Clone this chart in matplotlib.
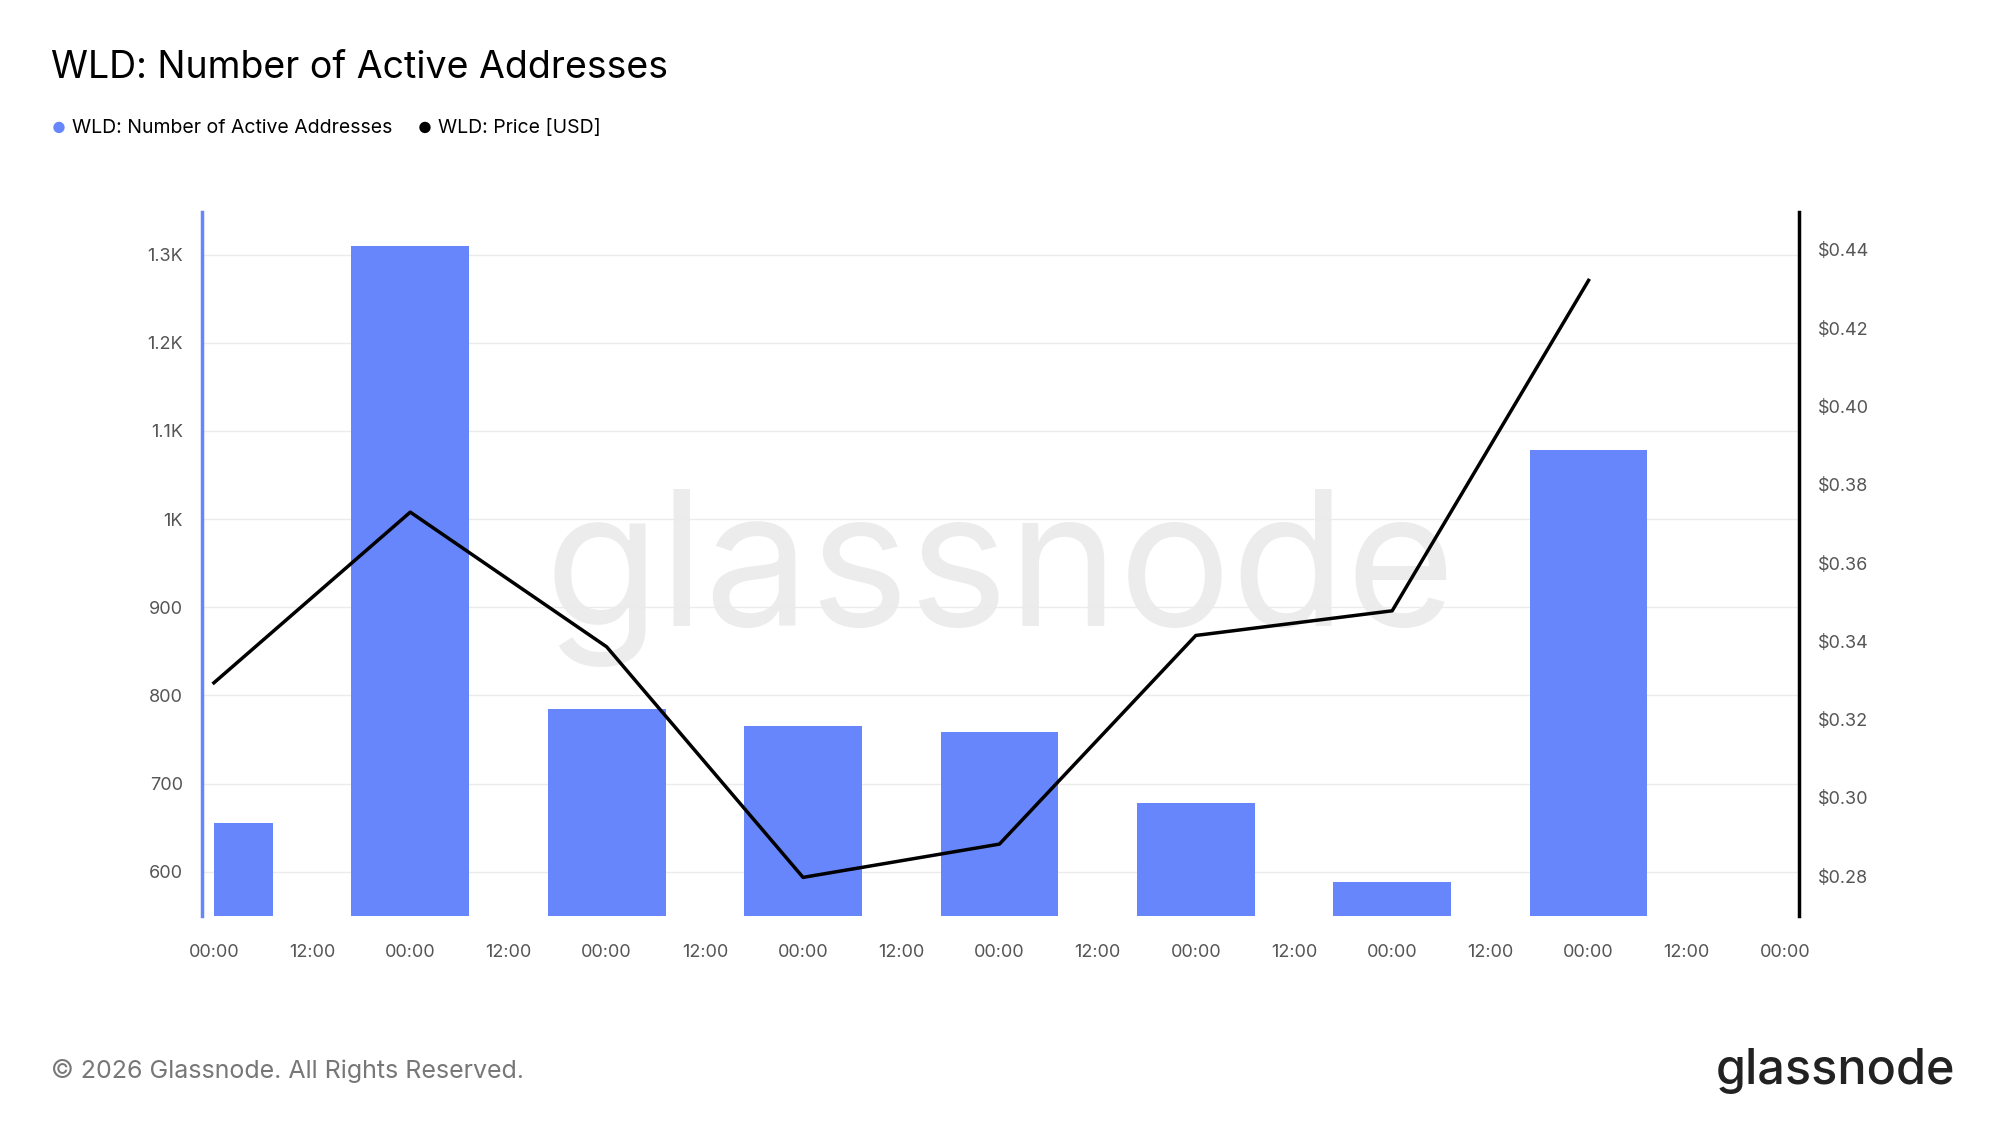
import matplotlib
matplotlib.use('Agg')
import matplotlib.pyplot as plt

days = [0, 1, 2, 3, 4, 5, 6, 7]
active = [655, 1310, 785, 765, 758, 678, 588, 1078]
price = [0.3294, 0.373, 0.3386, 0.2797, 0.2882, 0.3415, 0.3478, 0.4322]
xlabels = ['00:00', '12:00'] * 8 + ['00:00']
left_ticks = [600, 700, 800, 900, 1000, 1100, 1200, 1300]
left_labels = ['600', '700', '800', '900', '1K', '1.1K', '1.2K', '1.3K']
right_ticks = [0.28, 0.30, 0.32, 0.34, 0.36, 0.38, 0.40, 0.42, 0.44]

blue = '#6786fc'
plt.rcParams['font.family'] = ['Inter', 'DejaVu Sans']
fig = plt.figure(figsize=(19.99, 11.25), dpi=100)
ax = fig.add_axes([0.1013, 0.186, 0.7985, 0.626])

ax.text(0.5, 0.48, 'glassnode', transform=ax.transAxes, fontsize=135,
        color='#ececec', ha='center', va='center', zorder=1)

# first bar is cut at the start of the range
ax.bar(days[0], active[0], width=0.3, align='edge', color=blue, zorder=2)
ax.bar(days[1:], active[1:], width=0.6, color=blue, zorder=2)
ax.set_xlim(-0.058, 8.07)
ax.set_ylim(550, 1349)
ax.set_yticks(left_ticks)
ax.set_yticklabels(left_labels)
ax.set_xticks([i * 0.5 for i in range(17)])
ax.set_xticklabels(xlabels)
ax.grid(axis='y', color='#ebebeb', lw=1, zorder=0)
ax.tick_params(axis='y', length=0, labelsize=13, colors='#555555', pad=14)
ax.tick_params(axis='x', length=0, labelsize=13, colors='#555555', pad=20)
for s in ['top', 'right', 'bottom']:
    ax.spines[s].set_visible(False)
ax.spines['left'].set_color(blue)
ax.spines['left'].set_linewidth(2.5)

ax2 = ax.twinx()
ax2.plot(days, price, color='black', lw=2.5, zorder=3)
ax2.set_ylim(0.2699, 0.4498)
ax2.set_yticks(right_ticks)
ax2.set_yticklabels(['$%.2f' % v for v in right_ticks])
ax2.tick_params(length=0, labelsize=13, colors='#555555', pad=14)
for s in ['top', 'left', 'bottom']:
    ax2.spines[s].set_visible(False)
ax2.spines['right'].set_linewidth(2.5)

fig.text(0.0256, 0.94, 'WLD: Number of Active Addresses', fontsize=27, va='center')
fig.text(0.026, 0.886, '●', color=blue, fontsize=11, va='center')
fig.text(0.036, 0.886, 'WLD: Number of Active Addresses', fontsize=14, va='center')
fig.text(0.209, 0.886, '●', color='black', fontsize=11, va='center')
fig.text(0.219, 0.886, 'WLD: Price [USD]', fontsize=14, va='center')
fig.text(0.0256, 0.048, '© 2026 Glassnode. All Rights Reserved.', fontsize=18,
         color='#777777', va='center')
fig.text(0.978, 0.048, 'glassnode', fontsize=35, fontweight='medium',
         color='#222222', ha='right', va='center')

plt.savefig('out.png', dpi=100)
plt.close()
